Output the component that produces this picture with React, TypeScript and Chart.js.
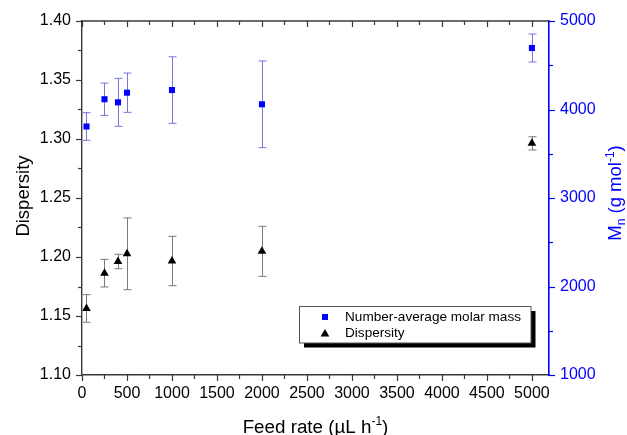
import React, { useEffect, useRef } from 'react';
import { Chart, registerables } from 'chart.js';

Chart.register(...registerables);

// ---- data ----
const feedRates = [50, 250, 400, 500, 1000, 2000, 5000];
const mnValues = [3808, 4116, 4081, 4190, 4220, 4059, 4695];
const mnErrors = [156, 183, 271, 222, 376, 490, 158];
const dispersityValues = [1.1564, 1.1863, 1.1962, 1.2027, 1.1966, 1.2048, 1.2963];
const dispersityErrors = [0.0117, 0.0117, 0.0061, 0.0304, 0.0209, 0.0212, 0.0056];

const xTickValues = [0, 500, 1000, 1500, 2000, 2500, 3000, 3500, 4000, 4500, 5000];
const leftTickValues = [1.1, 1.15, 1.2, 1.25, 1.3, 1.35, 1.4];
const rightTickValues = [1000, 2000, 3000, 4000, 5000];

const xMinorStep = 250;
const xMin = 0;
const xMax = 5190;
const leftMin = 1.1;
const leftMax = 1.4;
const leftMinorStep = 0.025;
const rightMin = 1000;
const rightMax = 5000;
const rightMinorStep = 500;

const legendLabels = ['Number-average molar mass', 'Dispersity'];
const xTitleParts = ['Feed rate (\u00b5L h', '-1', ')'];
const leftTitle = 'Dispersity';
const rightTitleParts = ['M', 'n', ' (g mol', '-1', ')'];

const FONT = "'Liberation Sans', Arial, sans-serif";
const BLUE = '#0000ff';
const AXIS = '#3a3a3a';

type Part = { text: string; size: number; dy: number; w?: number };

function drawRich(ctx: CanvasRenderingContext2D, parts: Part[], x: number, y: number) {
  let total = 0;
  for (const p of parts) {
    ctx.font = `${p.size}px ${FONT}`;
    p.w = ctx.measureText(p.text).width;
    total += p.w;
  }
  let cx = x - total / 2;
  ctx.textAlign = 'left';
  ctx.textBaseline = 'alphabetic';
  for (const p of parts) {
    ctx.font = `${p.size}px ${FONT}`;
    ctx.fillText(p.text, cx, y + p.dy);
    cx += p.w || 0;
  }
}

const decorPlugin = {
  id: 'decor',
  beforeDatasetsDraw(chart: any) {
    const ctx: CanvasRenderingContext2D = chart.ctx;
    const xs = chart.scales.x;
    const yl = chart.scales.y;
    const yr = chart.scales.y1;
    ctx.save();
    ctx.lineWidth = 1;
    const cap = 4;
    const drawErr = (xv: number, v: number, e: number, scale: any, color: string) => {
      const px = Math.round(xs.getPixelForValue(xv)) + 0.5;
      const t = scale.getPixelForValue(v + e);
      const b = scale.getPixelForValue(v - e);
      ctx.strokeStyle = color;
      ctx.beginPath();
      ctx.moveTo(px, t);
      ctx.lineTo(px, b);
      ctx.moveTo(px - cap, t);
      ctx.lineTo(px + cap, t);
      ctx.moveTo(px - cap, b);
      ctx.lineTo(px + cap, b);
      ctx.stroke();
    };
    feedRates.forEach((f, i) => drawErr(f, mnValues[i], mnErrors[i], yr, '#7676dc'));
    feedRates.forEach((f, i) => drawErr(f, dispersityValues[i], dispersityErrors[i], yl, '#7a7a7a'));
    ctx.restore();
  },
  afterDraw(chart: any) {
    const ctx: CanvasRenderingContext2D = chart.ctx;
    const a = chart.chartArea;
    const xs = chart.scales.x;
    const yl = chart.scales.y;
    const yr = chart.scales.y1;
    ctx.save();

    // top axis line
    ctx.strokeStyle = AXIS;
    ctx.lineWidth = 1.4;
    ctx.beginPath();
    ctx.moveTo(a.left, a.top);
    ctx.lineTo(a.right, a.top);
    ctx.stroke();

    // x ticks (bottom outward, top inward)
    ctx.lineWidth = 1.2;
    const xLast = xTickValues[xTickValues.length - 1];
    const nX = Math.round((xLast - xMin) / xMinorStep);
    for (let i = 0; i <= nX; i++) {
      const v = xMin + i * xMinorStep;
      const major = i % 2 === 0;
      const len = major ? 6 : 4;
      const px = Math.round(xs.getPixelForValue(v)) + 0.5;
      ctx.beginPath();
      ctx.moveTo(px, a.bottom);
      ctx.lineTo(px, a.bottom + len);
      ctx.moveTo(px, a.top);
      ctx.lineTo(px, a.top + len);
      ctx.stroke();
    }
    // left ticks
    const nL = Math.round((leftMax - leftMin) / leftMinorStep);
    for (let i = 0; i <= nL; i++) {
      const v = leftMin + i * leftMinorStep;
      const major = i % 2 === 0;
      const len = major ? 6 : 4;
      const py = Math.round(yl.getPixelForValue(v)) + 0.5;
      ctx.beginPath();
      ctx.moveTo(a.left - len, py);
      ctx.lineTo(a.left, py);
      ctx.stroke();
    }
    // right ticks
    ctx.strokeStyle = BLUE;
    const nR = Math.round((rightMax - rightMin) / rightMinorStep);
    for (let i = 0; i <= nR; i++) {
      const v = rightMin + i * rightMinorStep;
      const major = i % 2 === 0;
      const len = major ? 6 : 4;
      const py = Math.round(yr.getPixelForValue(v)) + 0.5;
      ctx.beginPath();
      ctx.moveTo(a.right, py);
      ctx.lineTo(a.right + len, py);
      ctx.stroke();
    }

    // titles
    ctx.fillStyle = '#000';
    drawRich(
      ctx,
      [
        { text: xTitleParts[0], size: 18.8, dy: 0 },
        { text: xTitleParts[1], size: 12, dy: -7.5 },
        { text: xTitleParts[2], size: 18.8, dy: 0 },
      ],
      (a.left + a.right) / 2,
      432.5
    );
    ctx.save();
    ctx.translate(28.5, 196);
    ctx.rotate(-Math.PI / 2);
    drawRich(ctx, [{ text: leftTitle, size: 18.5, dy: 0 }], 0, 0);
    ctx.restore();

    ctx.save();
    ctx.fillStyle = BLUE;
    ctx.translate(621, 193);
    ctx.rotate(-Math.PI / 2);
    drawRich(
      ctx,
      [
        { text: rightTitleParts[0], size: 18.5, dy: 0 },
        { text: rightTitleParts[1], size: 12, dy: 3.5 },
        { text: rightTitleParts[2], size: 18.5, dy: 0 },
        { text: rightTitleParts[3], size: 12, dy: -7.5 },
        { text: rightTitleParts[4], size: 18.5, dy: 0 },
      ],
      0,
      0
    );
    ctx.restore();

    // legend
    const lx = 299.5, ly = 306.5, lw = 231.5, lh = 36.5;
    ctx.fillStyle = '#000';
    ctx.fillRect(lx + 4.5, ly + 4.5, lw, lh);
    ctx.fillStyle = '#fff';
    ctx.fillRect(lx, ly, lw, lh);
    ctx.strokeStyle = '#555';
    ctx.lineWidth = 1;
    ctx.strokeRect(lx, ly, lw, lh);
    ctx.fillStyle = BLUE;
    ctx.fillRect(322, 314, 6, 6);
    ctx.fillStyle = '#000';
    const tx = 325, ty = 334, r = 5;
    ctx.beginPath();
    ctx.moveTo(tx, ty - r);
    ctx.lineTo(tx + r * 0.866, ty + r * 0.5);
    ctx.lineTo(tx - r * 0.866, ty + r * 0.5);
    ctx.closePath();
    ctx.fill();
    ctx.font = `13.6px ${FONT}`;
    ctx.textAlign = 'left';
    ctx.textBaseline = 'middle';
    ctx.fillText(legendLabels[0], 345, 317.5);
    ctx.fillText(legendLabels[1], 345, 333.5);

    ctx.restore();
  },
};

const setTicks = (values: number[]) => (s: any) => {
  s.ticks = values.map((v) => ({ value: v }));
};

export default function App() {
  const ref = useRef<HTMLCanvasElement | null>(null);
  useEffect(() => {
    if (!ref.current) return;
    const chart = new Chart(ref.current, {
      type: 'scatter',
      data: {
        datasets: [
          {
            label: legendLabels[0],
            data: feedRates.map((f, i) => ({ x: f, y: mnValues[i] })),
            yAxisID: 'y1',
            pointStyle: 'rect',
            pointRadius: 4.3,
            backgroundColor: BLUE,
            borderWidth: 0,
          },
          {
            label: legendLabels[1],
            data: feedRates.map((f, i) => ({ x: f, y: dispersityValues[i] })),
            yAxisID: 'y',
            pointStyle: 'triangle',
            pointRadius: 5,
            backgroundColor: '#000',
            borderWidth: 0,
          },
        ],
      },
      options: {
        responsive: false,
        animation: false,
        layout: { padding: { top: 21, left: 0, right: 0, bottom: 0 } },
        plugins: { legend: { display: false }, tooltip: { enabled: false } },
        scales: {
          x: {
            type: 'linear',
            min: xMin,
            max: xMax,
            grid: { display: false, drawTicks: false },
            border: { display: true, color: AXIS, width: 1.4 },
            afterBuildTicks: setTicks(xTickValues),
            ticks: {
              padding: 9,
              color: '#000',
              font: { family: FONT, size: 16 },
              maxRotation: 0,
              minRotation: 0,
              autoSkip: false,
              callback: (v: any) => String(v),
            },
            afterFit: (s: any) => {
              s.height = 60;
            },
          },
          y: {
            type: 'linear',
            position: 'left',
            min: leftMin,
            max: leftMax,
            grid: { display: false, drawTicks: false },
            border: { display: true, color: AXIS, width: 1.4 },
            afterBuildTicks: setTicks(leftTickValues),
            ticks: {
              padding: 11,
              color: '#000',
              font: { family: FONT, size: 16 },
              autoSkip: false,
              callback: (v: any) => Number(v).toFixed(2),
            },
            afterFit: (s: any) => {
              s.width = 82;
            },
          },
          y1: {
            type: 'linear',
            position: 'right',
            min: rightMin,
            max: rightMax,
            grid: { display: false, drawTicks: false },
            border: { display: true, color: BLUE, width: 1.6 },
            afterBuildTicks: setTicks(rightTickValues),
            ticks: {
              padding: 11,
              color: BLUE,
              font: { family: FONT, size: 16 },
              autoSkip: false,
              callback: (v: any) => String(v),
            },
            afterFit: (s: any) => {
              s.width = 78;
            },
          },
        },
      },
      plugins: [decorPlugin],
    });
    return () => chart.destroy();
  }, []);
  return (
    <div style={{ position: 'fixed', left: 0, top: 0, width: 627, height: 435, background: '#fff' }}>
      <canvas ref={ref} width={627} height={435} />
    </div>
  );
}
